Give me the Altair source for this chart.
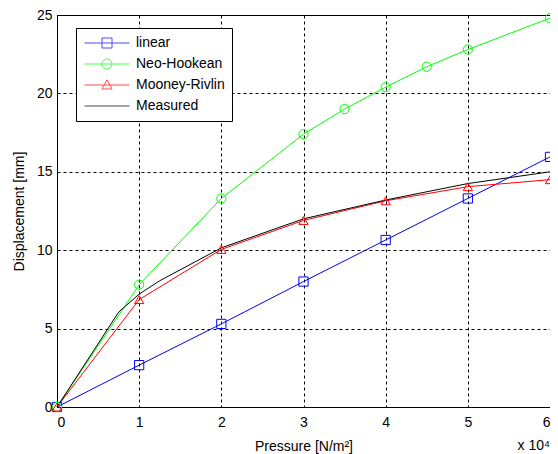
import altair as alt
import pandas as pd

# ---- data (pressure in N/m^2, displacement in mm) ----
series_names = ["linear", "Neo-Hookean", "Mooney-Rivlin", "Measured"]
series_colors = ["#0000ff", "#00ff00", "#ff0000", "#000000"]

linear_x = [0, 10000, 20000, 30000, 40000, 50000, 60000]
linear_y = [0, 2.67, 5.3, 8.0, 10.65, 13.3, 15.95]

neo_x = [0, 10000, 20000, 30000, 35000, 40000, 45000, 50000, 60000]
neo_y = [0, 7.8, 13.3, 17.4, 19.0, 20.4, 21.7, 22.8, 24.8]

mooney_x = [0, 10000, 20000, 30000, 40000, 50000, 60000]
mooney_y = [0, 6.85, 10.05, 11.9, 13.15, 14.05, 14.5]

measured_x = [0, 7500, 10000, 12500, 20000, 30000, 40000, 50000, 60000]
measured_y = [0, 6.05, 7.2, 8.05, 10.15, 12.0, 13.2, 14.25, 15.0]

x_ticks = [0, 10000, 20000, 30000, 40000, 50000, 60000]
y_ticks = [0, 5, 10, 15, 20, 25]

x_title = "Pressure [N/m²]"
y_title = "Displacement [mm]"
exponent_label = ["x 10⁴"]

rows = []
for name, xs, ys in [
    ("linear", linear_x, linear_y),
    ("Neo-Hookean", neo_x, neo_y),
    ("Mooney-Rivlin", mooney_x, mooney_y),
    ("Measured", measured_x, measured_y),
]:
    for i, (xv, yv) in enumerate(zip(xs, ys)):
        rows.append({"series": name, "x": xv, "y": yv, "i": i})
df = pd.DataFrame(rows)

FONT = "Liberation Sans"
W, H = 493, 392

x_enc = alt.X(
    "x:Q",
    scale=alt.Scale(domain=[0, 60000], nice=False),
    axis=alt.Axis(
        values=x_ticks,
        labelExpr="datum.value / 10000",
        title=x_title,
        labelPadding=8,
        titlePadding=10,
    ),
)
y_enc = alt.Y(
    "y:Q",
    scale=alt.Scale(domain=[0, 25], nice=False),
    axis=alt.Axis(values=y_ticks, title=y_title, labelPadding=5, titlePadding=10),
)

color_scale = alt.Scale(domain=series_names, range=series_colors)

lines = alt.Chart(df).mark_line(strokeWidth=1).encode(
    x=x_enc,
    y=y_enc,
    order="i:Q",
    color=alt.Color("series:N", scale=color_scale, legend=None),
)

marker_names = series_names[:3]
points = (
    alt.Chart(df)
    .transform_filter(alt.FieldOneOfPredicate(field="series", oneOf=marker_names))
    .mark_point(filled=False, size=85, strokeWidth=1, opacity=1)
    .encode(
        x=x_enc,
        y=y_enc,
        color=alt.Color("series:N", scale=color_scale, legend=None),
        shape=alt.Shape(
            "series:N",
            scale=alt.Scale(domain=marker_names, range=["square", "circle", "triangle-up"]),
            legend=None,
        ),
    )
)

# legend symbols: line with marker on it (unit box -1..1)
legend_paths = [
    "M-0.957,0L0.957,0M-0.213,-0.213L0.213,-0.213L0.213,0.213L-0.213,0.213Z",
    "M-0.957,0L0.957,0M0.213,0A0.213,0.213,0,1,1,-0.213,0A0.213,0.213,0,1,1,0.213,0",
    "M-0.957,0L0.957,0M0,-0.22L0.213,0.17L-0.213,0.17Z",
    "M-0.957,0L0.957,0",
]
SYM = 47
legend = alt.Legend(
    title=None,
    orient="none",
    legendX=19,
    legendY=13,
    fillColor="white",
    strokeColor="black",
    padding=7,
    labelFont=FONT,
    labelFontSize=14,
    labelColor="black",
    labelOffset=5,
    symbolSize=SYM * SYM,
    symbolStrokeWidth=1,
    clipHeight=16,
    rowPadding=5,
)
legend_layer = (
    alt.Chart(df)
    .transform_filter("datum.x < 0")
    .mark_point(filled=False, size=SYM * SYM, strokeWidth=1)
    .encode(
        x=x_enc,
        y=y_enc,
        color=alt.Color("series:N", scale=color_scale, legend=legend),
        shape=alt.Shape(
            "series:N",
            scale=alt.Scale(domain=series_names, range=legend_paths),
            legend=legend,
        ),
    )
)

exp_text = alt.Chart(pd.DataFrame({"t": exponent_label})).mark_text(
    align="right", baseline="alphabetic", font=FONT, fontSize=14, color="black"
).encode(text="t:N", x=alt.value(W), y=alt.value(435))

chart = (
    alt.layer(lines, points, legend_layer, exp_text)
    .resolve_scale(color="independent", shape="independent")
    .properties(
        width=W,
        height=H,
        autosize="none",
        padding={"left": 49, "top": 7, "right": 0, "bottom": 47},
        background="white",
    )
    .configure_view(stroke="black", strokeWidth=1)
    .configure_axis(
        labelFont=FONT,
        labelFontSize=14,
        labelColor="black",
        titleFont=FONT,
        titleFontSize=14,
        titleFontWeight="normal",
        titleColor="black",
        domainColor="black",
        ticks=False,
        tickSize=0,
        grid=True,
        gridColor="black",
        gridOpacity=1,
        gridDash=[3, 3],
        gridWidth=1,
    )
)

chart.save("out.html", embed_options={"renderer": "svg", "actions": False})
